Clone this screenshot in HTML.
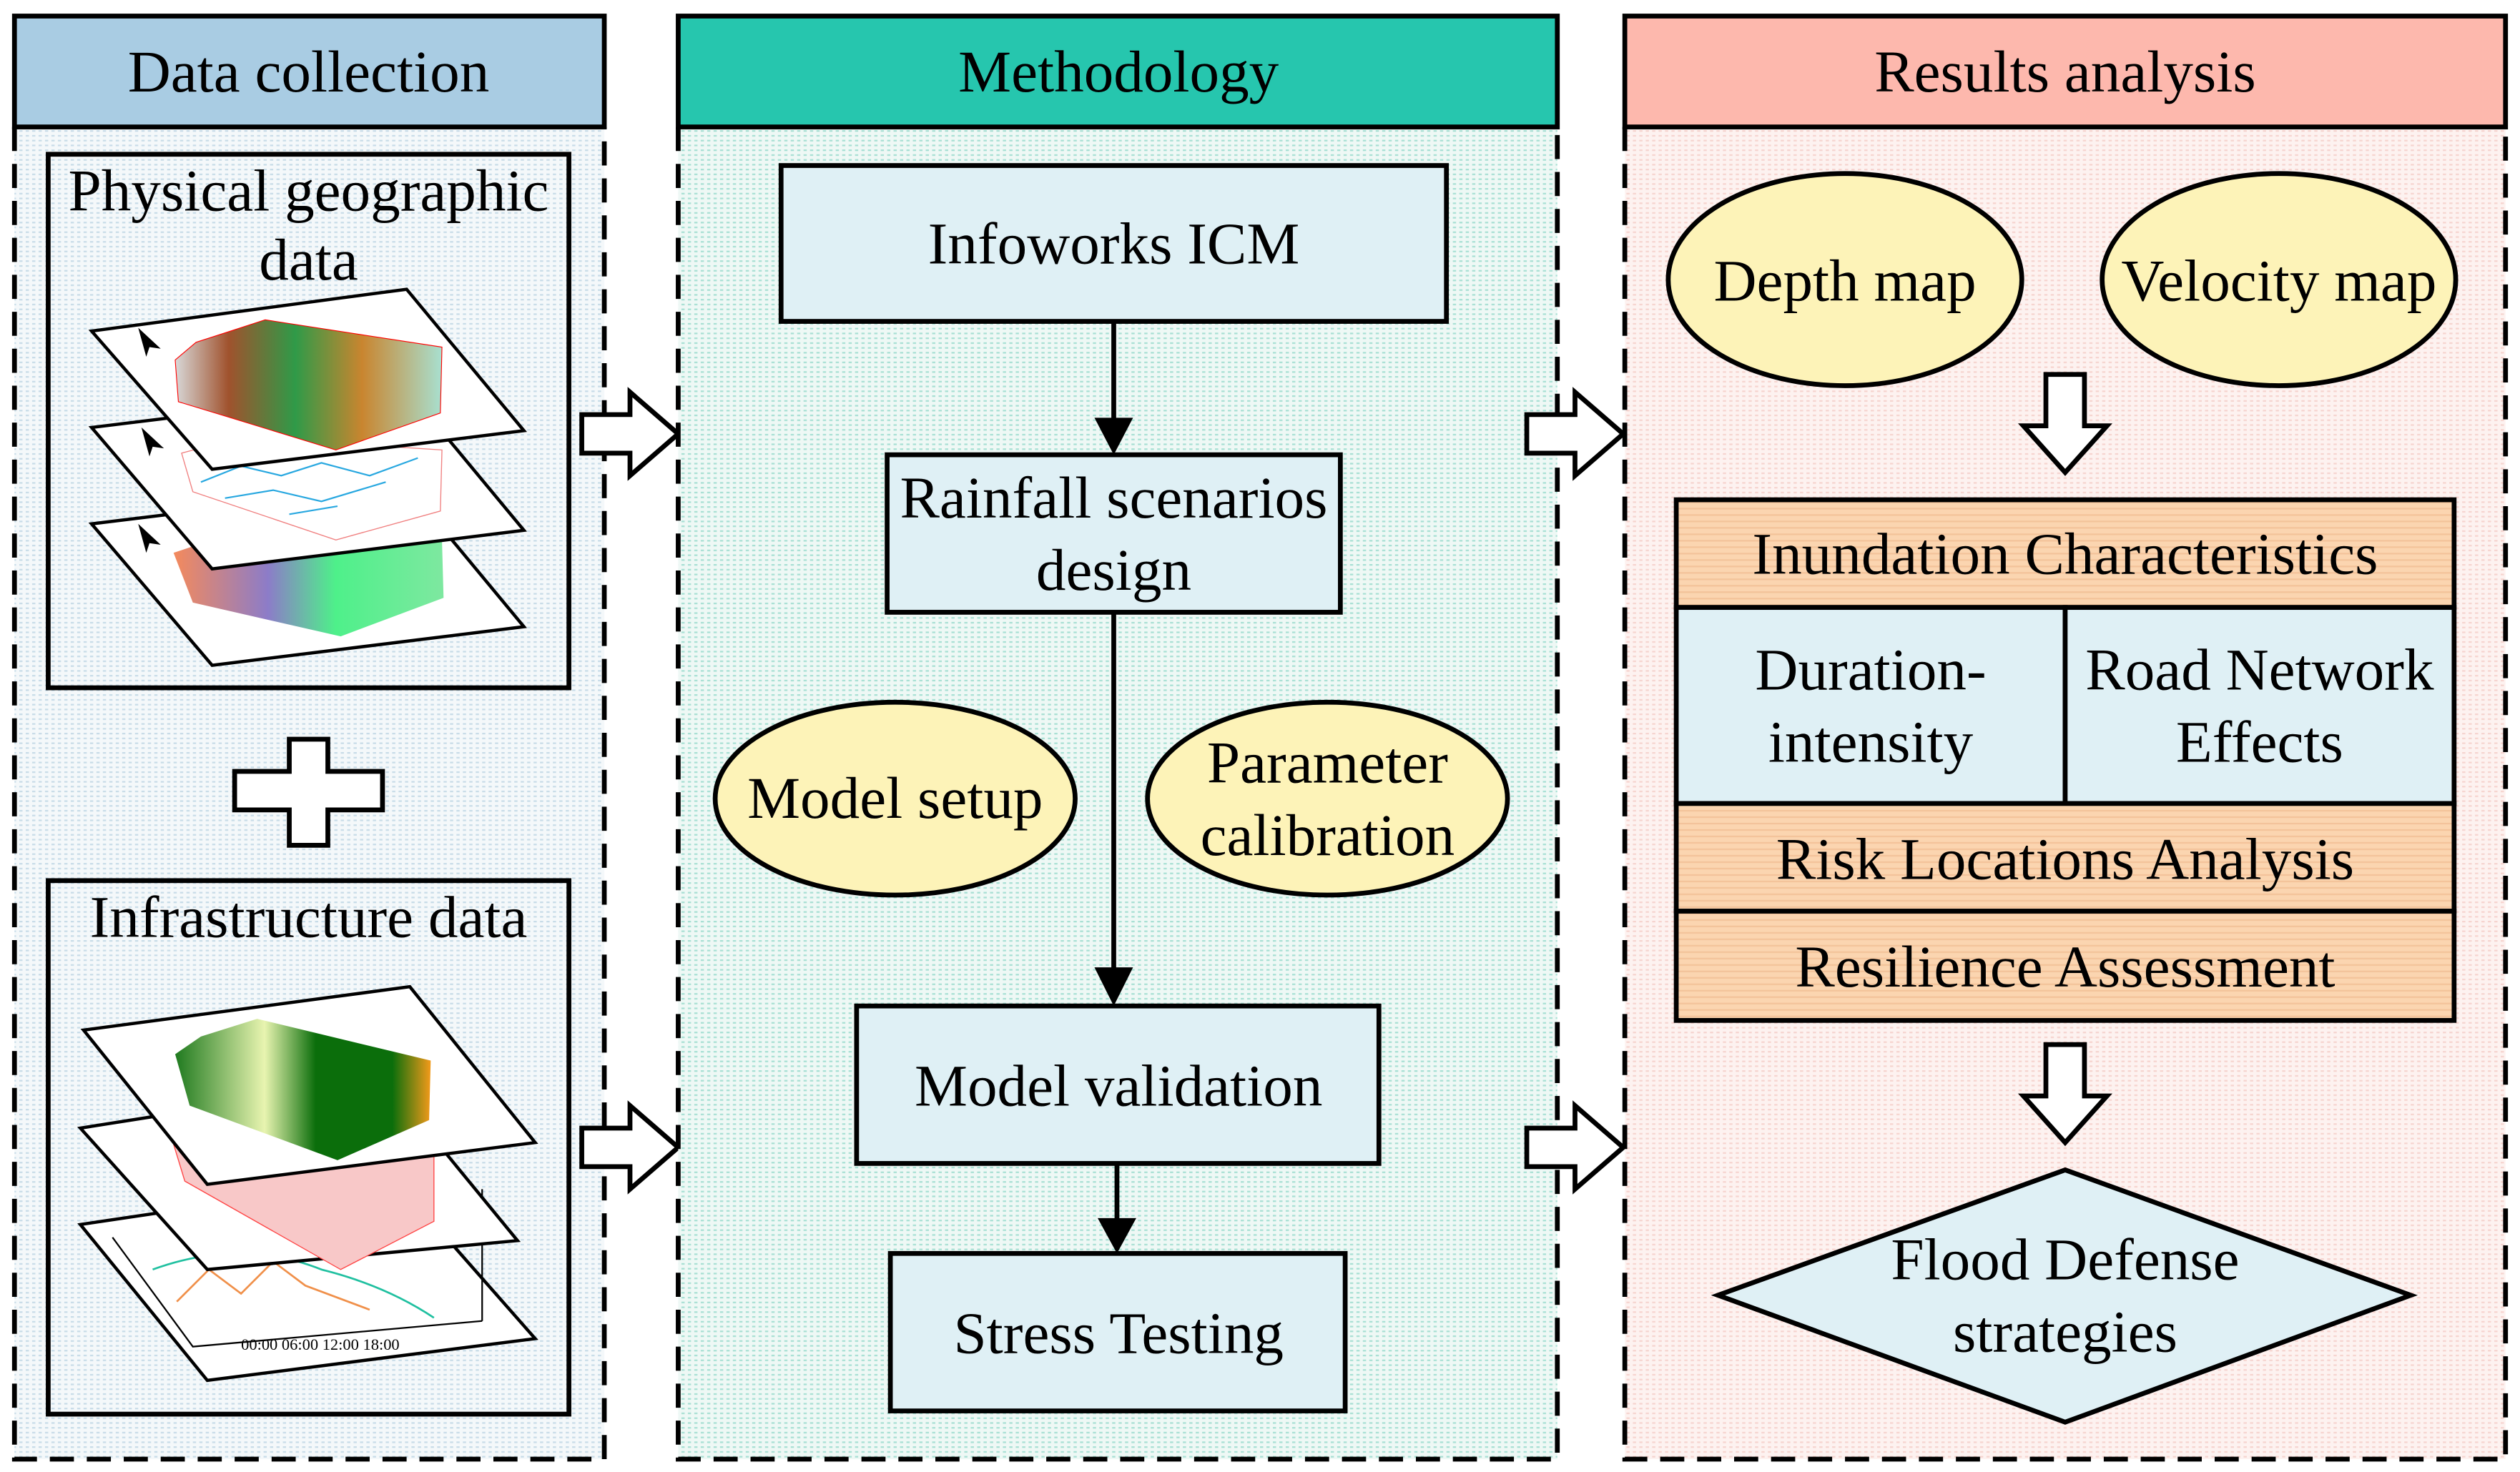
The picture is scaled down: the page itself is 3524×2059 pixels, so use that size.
<!DOCTYPE html>
<html><head><meta charset="utf-8"><style>
html,body{margin:0;padding:0;background:#fff}
svg{display:block}
text{font-family:"Liberation Serif",serif;fill:#000}
</style></head><body>
<svg width="3524" height="2059" viewBox="0 0 1568 916" preserveAspectRatio="none" xmlns="http://www.w3.org/2000/svg">
<defs>
<pattern id="pb" width="4" height="3" patternUnits="userSpaceOnUse"><rect width="4" height="3" fill="#f4f8fa"/><rect width="2" height="1" fill="#c8dce8"/></pattern>
<pattern id="pt" width="4" height="3" patternUnits="userSpaceOnUse"><rect width="4" height="3" fill="#eef8f5"/><rect width="2" height="1" fill="#a8e0d4"/></pattern>
<pattern id="pp" width="4" height="3" patternUnits="userSpaceOnUse"><rect width="4" height="3" fill="#fdf2f0"/><rect width="2" height="1" fill="#f6d4cf"/></pattern>
<pattern id="po" width="4" height="4" patternUnits="userSpaceOnUse"><rect width="4" height="4" fill="#fbd5b0"/><rect width="4" height="1" fill="#f3c39a"/></pattern>
<linearGradient id="dem" x1="0" x2="1" y1="0" y2="0"><stop offset="0" stop-color="#d8d8d8"/><stop offset="0.2" stop-color="#a0522d"/><stop offset="0.45" stop-color="#2f9a48"/><stop offset="0.7" stop-color="#c9852f"/><stop offset="1" stop-color="#a8e0d0"/></linearGradient>
<linearGradient id="lu" x1="0" x2="1"><stop offset="0" stop-color="#f48a5c"/><stop offset="0.35" stop-color="#8c7cc8"/><stop offset="0.6" stop-color="#4ef08a"/><stop offset="1" stop-color="#7ee8a0"/></linearGradient>
<linearGradient id="lc" x1="0" x2="1"><stop offset="0" stop-color="#1f7a1f"/><stop offset="0.35" stop-color="#e8f4b0"/><stop offset="0.55" stop-color="#0b6e0b"/><stop offset="0.85" stop-color="#0b6e0b"/><stop offset="1" stop-color="#f29a1a"/></linearGradient>
</defs>

<rect x="9" y="79" width="367" height="829" fill="url(#pb)"/>
<path d="M9 79 V908 H376 V79" fill="none" stroke="#000" stroke-width="3" stroke-dasharray="15,8"/>
<rect x="9" y="10" width="367" height="69" fill="#a9cce3" stroke="#000" stroke-width="3"/>
<text x="192" y="57" font-size="37" text-anchor="middle">Data collection</text>

<rect x="30" y="96" width="324" height="332" fill="url(#pb)" stroke="#000" stroke-width="3"/>
<text x="192" y="131" font-size="37" text-anchor="middle">Physical geographic</text>
<text x="192" y="174" font-size="37" text-anchor="middle">data</text>
<polygon points="57,326 253,302 326,390 132,414" fill="#fff" stroke="#000" stroke-width="2"/>
<polygon points="108,344 150,330 275,336 276,372 212,396 120,375" fill="url(#lu)"/>
<polygon points="57,266 253,242 326,330 132,354" fill="#fff" stroke="#000" stroke-width="2"/>
<polygon points="113,282 150,272 275,280 274,318 209,336 120,306" fill="#fff" stroke="#f08080" stroke-width="0.6"/>
<path d="M125 300 L150 290 L175 296 L200 288 L230 296 L260 285 M140 310 L170 305 L200 312 L240 300 M180 320 L210 315" stroke="#29a8e0" stroke-width="1" fill="none"/>
<polygon points="57,206 253,180 326,268 132,292" fill="#fff" stroke="#000" stroke-width="2"/>
<polygon points="109,224 122,213 165,199 275,216 274,257 209,280 111,250" fill="url(#dem)" stroke="#f00" stroke-width="0.5"/>
<path d="M86 204 l14 13 -7 -1 -2 6 z M88 266 l14 13 -7 -1 -2 6 z M86 326 l14 13 -7 -1 -2 6 z M81 643 l14 13 -7 -1 -2 6 z M81 702 l14 13 -7 -1 -2 6 z" fill="#000"/>

<path d="M180 460 H204 V480 H238 V504 H204 V526 H180 V504 H146 V480 H180 Z" fill="#fff" stroke="#000" stroke-width="3"/>

<rect x="30" y="548" width="324" height="332" fill="url(#pb)" stroke="#000" stroke-width="3"/>
<text x="192" y="583" font-size="37" text-anchor="middle">Infrastructure data</text>
<polygon points="50,762 245,733 333,833 129,859" fill="#fff" stroke="#000" stroke-width="2"/>
<path d="M70 770 L120 838 L300 822 M300 740 L300 822" fill="none" stroke="#000" stroke-width="1"/>
<path d="M95 790 Q150 770 200 790 Q240 800 270 820" fill="none" stroke="#20c0a0" stroke-width="1.2"/>
<path d="M110 810 L130 790 L150 805 L170 785 L190 800 L230 815" fill="none" stroke="#f0904a" stroke-width="1.2"/>
<text x="150" y="840" font-size="10">00:00  06:00  12:00  18:00</text>
<polygon points="50,702 240,672 322,772 129,790" fill="#fff" stroke="#000" stroke-width="2"/>
<polygon points="108,712 130,700 270,700 270,760 212,790 115,735" fill="#f8c8c8" stroke="#f44" stroke-width="0.6"/>
<polygon points="52,641 255,614 333,711 129,737" fill="#fff" stroke="#000" stroke-width="2"/>
<polygon points="109,656 125,645 160,634 268,660 267,697 210,722 118,688" fill="url(#lc)"/>

<path d="M362 258 H392 V244 L422 270 L392 296 V282 H362 Z" fill="#fff" stroke="#000" stroke-width="3"/>
<path d="M362 702 H392 V688 L422 714 L392 740 V726 H362 Z" fill="#fff" stroke="#000" stroke-width="3"/>

<rect x="422" y="79" width="547" height="829" fill="url(#pt)"/>
<path d="M422 79 V908 H969 V79" fill="none" stroke="#000" stroke-width="3" stroke-dasharray="15,8"/>
<rect x="422" y="10" width="547" height="69" fill="#26c6ae" stroke="#000" stroke-width="3"/>
<text x="696" y="57" font-size="37" text-anchor="middle">Methodology</text>

<rect x="486" y="103" width="414" height="97" fill="#dff0f5" stroke="#000" stroke-width="3"/>
<text x="693" y="164" font-size="37" text-anchor="middle">Infoworks ICM</text>
<line x1="693" y1="200" x2="693" y2="262" stroke="#000" stroke-width="3"/>
<polygon points="681,260 705,260 693,283" fill="#000"/>
<rect x="552" y="283" width="282" height="98" fill="#dff0f5" stroke="#000" stroke-width="3"/>
<text x="693" y="322" font-size="37" text-anchor="middle">Rainfall scenarios</text>
<text x="693" y="367" font-size="37" text-anchor="middle">design</text>
<line x1="693" y1="381" x2="693" y2="604" stroke="#000" stroke-width="3"/>
<polygon points="681,602 705,602 693,626" fill="#000"/>
<ellipse cx="557" cy="497" rx="112" ry="60" fill="#fdf3b8" stroke="#000" stroke-width="3"/>
<text x="557" y="509" font-size="37" text-anchor="middle">Model setup</text>
<ellipse cx="826" cy="497" rx="112" ry="60" fill="#fdf3b8" stroke="#000" stroke-width="3"/>
<text x="826" y="487" font-size="37" text-anchor="middle">Parameter</text>
<text x="826" y="532" font-size="37" text-anchor="middle">calibration</text>
<rect x="533" y="626" width="325" height="98" fill="#dff0f5" stroke="#000" stroke-width="3"/>
<text x="696" y="688" font-size="37" text-anchor="middle">Model validation</text>
<line x1="695" y1="724" x2="695" y2="760" stroke="#000" stroke-width="3"/>
<polygon points="683,758 707,758 695,780" fill="#000"/>
<rect x="554" y="780" width="283" height="98" fill="#dff0f5" stroke="#000" stroke-width="3"/>
<text x="696" y="842" font-size="37" text-anchor="middle">Stress Testing</text>

<path d="M950 258 H980 V244 L1010 270 L980 296 V282 H950 Z" fill="#fff" stroke="#000" stroke-width="3"/>
<path d="M950 702 H980 V688 L1010 714 L980 740 V726 H950 Z" fill="#fff" stroke="#000" stroke-width="3"/>

<rect x="1011" y="79" width="548" height="829" fill="url(#pp)"/>
<path d="M1011 79 V908 H1559 V79" fill="none" stroke="#000" stroke-width="3" stroke-dasharray="15,8"/>
<rect x="1011" y="10" width="548" height="69" fill="#fdb8ad" stroke="#000" stroke-width="3"/>
<text x="1285" y="57" font-size="37" text-anchor="middle">Results analysis</text>

<ellipse cx="1148" cy="174" rx="110" ry="66" fill="#fdf3b8" stroke="#000" stroke-width="3"/>
<text x="1148" y="187" font-size="37" text-anchor="middle">Depth map</text>
<ellipse cx="1418" cy="174" rx="110" ry="66" fill="#fdf3b8" stroke="#000" stroke-width="3"/>
<text x="1418" y="187" font-size="37" text-anchor="middle">Velocity map</text>
<path d="M1273 233 H1297 V265 H1311 L1285 294 L1259 265 H1273 Z" fill="#fff" stroke="#000" stroke-width="3"/>

<rect x="1043" y="311" width="484" height="67" fill="url(#po)" stroke="#000" stroke-width="3"/>
<text x="1285" y="357" font-size="37" text-anchor="middle">Inundation Characteristics</text>
<rect x="1043" y="378" width="242" height="122" fill="#dff0f5" stroke="#000" stroke-width="3"/>
<rect x="1285" y="378" width="242" height="122" fill="#dff0f5" stroke="#000" stroke-width="3"/>
<text x="1164" y="429" font-size="37" text-anchor="middle">Duration-</text>
<text x="1164" y="474" font-size="37" text-anchor="middle">intensity</text>
<text x="1406" y="429" font-size="37" text-anchor="middle">Road Network</text>
<text x="1406" y="474" font-size="37" text-anchor="middle">Effects</text>
<rect x="1043" y="500" width="484" height="67" fill="url(#po)" stroke="#000" stroke-width="3"/>
<text x="1285" y="547" font-size="37" text-anchor="middle">Risk Locations Analysis</text>
<rect x="1043" y="567" width="484" height="68" fill="url(#po)" stroke="#000" stroke-width="3"/>
<text x="1285" y="614" font-size="37" text-anchor="middle">Resilience Assessment</text>

<path d="M1273 650 H1297 V682 H1311 L1285 711 L1259 682 H1273 Z" fill="#fff" stroke="#000" stroke-width="3"/>
<polygon points="1285,728 1500,806 1285,885 1069,806" fill="#dff0f5" stroke="#000" stroke-width="3"/>
<text x="1285" y="796" font-size="37" text-anchor="middle">Flood Defense</text>
<text x="1285" y="841" font-size="37" text-anchor="middle">strategies</text>
</svg>
</body></html>
